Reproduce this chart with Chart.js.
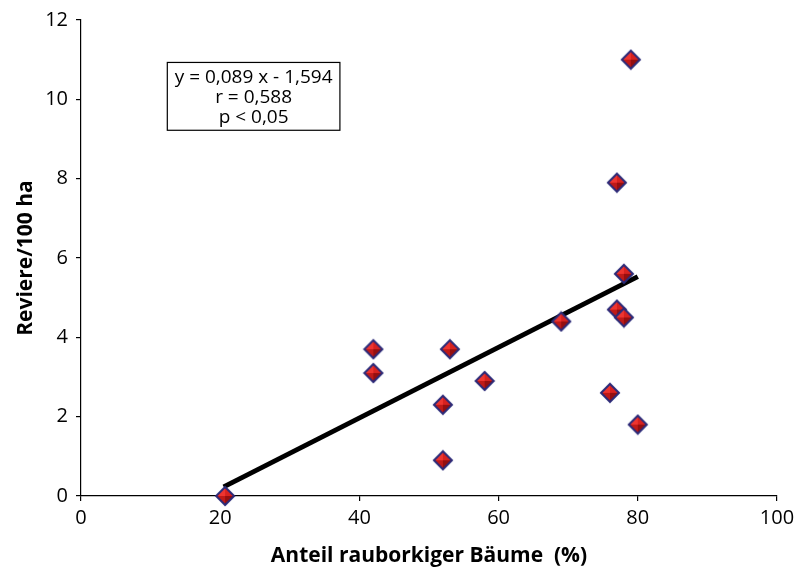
<!DOCTYPE html>
<html>
<head>
<meta charset="utf-8">
<script src="https://cdn.jsdelivr.net/npm/chart.js@4/dist/chart.umd.min.js"></script>
<style>
  html, body { margin: 0; padding: 0; background: #fff; }
  #wrap { width: 800px; height: 571px; }
</style>
</head>
<body>
<div id="wrap"><canvas id="c" width="800" height="571"></canvas></div>
<script>
const anteilX = [20.7, 42, 42, 52, 52, 53, 58, 69, 76, 77, 77, 78, 78, 79, 80];
const reviereY = [0, 3.7, 3.1, 2.3, 0.9, 3.7, 2.9, 4.4, 2.6, 7.9, 4.7, 4.5, 5.6, 11, 1.8];

const trendX = [20.5, 80];
const trendY = [0.23, 5.53];

const X_TICKS = [0, 20, 40, 60, 80, 100];
const Y_TICKS = [0, 2, 4, 6, 8, 10, 12];
const statLines = ["y = 0,089 x - 1,594", "r = 0,588", "p < 0,05"];

const FONT = "'Open Sans', Lato, sans-serif";

// Rauten-Marker mit Facetten
function diamondMarker(r) {
  const s = 22, c = s / 2;
  const cv = document.createElement("canvas");
  cv.width = s; cv.height = s;
  const g = cv.getContext("2d");
  const T = [c, c - r], R = [c + r, c], B = [c, c + r], L = [c - r, c];
  const outline = () => {
    g.beginPath(); g.moveTo(T[0], T[1]); g.lineTo(R[0], R[1]); g.lineTo(B[0], B[1]); g.lineTo(L[0], L[1]); g.closePath();
  };
  outline(); g.fillStyle = "#cc1d1b"; g.fill();
  const facet = (a, b, col) => {
    g.beginPath(); g.moveTo(c, c); g.lineTo(a[0], a[1]); g.lineTo(b[0], b[1]); g.closePath();
    g.fillStyle = col; g.fill();
  };
  facet(L, T, "#ee3530");
  facet(T, R, "#d8221f");
  facet(L, B, "#bf1a18");
  facet(B, R, "#950f10");
  outline(); g.lineWidth = 2; g.strokeStyle = "#2b2a78"; g.stroke();
  return cv;
}

const statBox = {
  id: "statBox",
  afterDraw(chart) {
    const { ctx, scales } = chart;
    const x0 = scales.x.getPixelForValue(12.4), x1 = scales.x.getPixelForValue(37.2);
    const y0 = scales.y.getPixelForValue(10.93), y1 = scales.y.getPixelForValue(9.22);
    ctx.save();
    ctx.fillStyle = "#fff";
    ctx.fillRect(x0, y0, x1 - x0, y1 - y0);
    ctx.strokeStyle = "#000"; ctx.lineWidth = 1.2;
    ctx.strokeRect(x0, y0, x1 - x0, y1 - y0);
    ctx.fillStyle = "#000";
    ctx.font = "19px " + FONT;
    ctx.textAlign = "center"; ctx.textBaseline = "middle";
    const cx = (x0 + x1) / 2;
    statLines.forEach((t, i) => ctx.fillText(t, cx, y0 + 15 + i * 20));
    ctx.restore();
  }
};

new Chart(document.getElementById("c"), {
  type: "scatter",
  data: {
    datasets: [
      {
        type: "line",
        data: trendX.map((x, i) => ({ x, y: trendY[i] })),
        borderColor: "#000", borderWidth: 5, pointRadius: 0, fill: false, order: 2,
      },
      {
        data: anteilX.map((x, i) => ({ x, y: reviereY[i] })),
        pointStyle: diamondMarker(9), pointRadius: 10, clip: false, order: 1,
      },
    ],
  },
  options: {
    responsive: false, animation: false,
    layout: { padding: { top: 19, right: 23, bottom: 0, left: 0 } },
    plugins: { legend: { display: false }, tooltip: { enabled: false } },
    scales: {
      x: {
        type: "linear", min: 0, max: 100,
        afterBuildTicks: s => { s.ticks = X_TICKS.map(v => ({ value: v })); },
        afterFit: s => { s.height = 75; },
        grid: { drawOnChartArea: false, drawTicks: true, tickLength: 5, color: "#000", lineWidth: 1.2 },
        border: { display: true, color: "#000", width: 1.2 },
        ticks: { color: "#000", font: { family: FONT, size: 20 }, padding: 5 },
        title: { display: true, text: "Anteil rauborkiger Bäume  (%)", color: "#000",
                 font: { family: FONT, size: 21, weight: "bold" }, padding: { top: 0, bottom: 2 } },
      },
      y: {
        type: "linear", min: 0, max: 12,
        afterBuildTicks: s => { s.ticks = Y_TICKS.map(v => ({ value: v })); },
        afterFit: s => { s.width = 81; },
        grid: { drawOnChartArea: false, drawTicks: true, tickLength: 5, color: "#000", lineWidth: 1.2 },
        border: { display: true, color: "#000", width: 1.2 },
        ticks: { color: "#000", font: { family: FONT, size: 20 }, padding: 8 },
        title: { display: true, text: "Reviere/100 ha", color: "#000",
                 font: { family: FONT, size: 21, weight: "bold" }, padding: { top: 13, bottom: 0 } },
      },
    },
  },
  plugins: [statBox],
});
</script>
</body>
</html>
